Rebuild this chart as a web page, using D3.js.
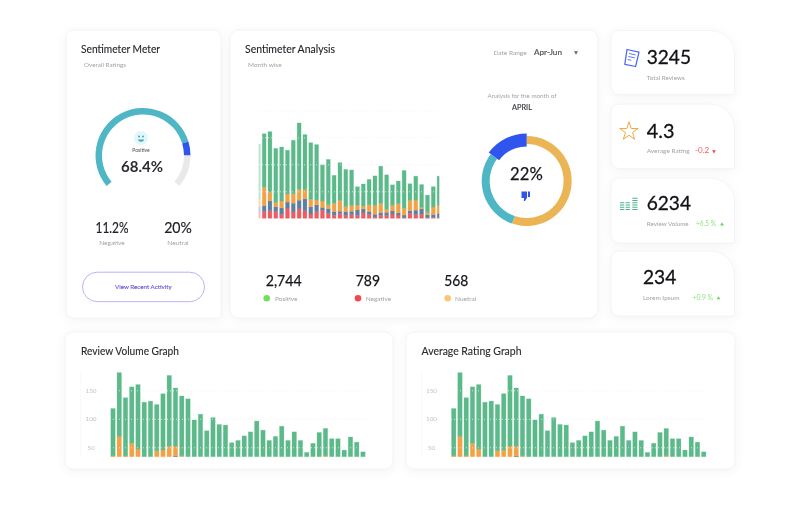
<!DOCTYPE html>
<html><head><meta charset="utf-8">
<script src="https://cdnjs.cloudflare.com/ajax/libs/d3/7.8.5/d3.min.js"></script>
<style>
html,body{margin:0;padding:0;background:#fff;}
svg{display:block;filter:blur(0.45px);}
text{font-family:Lato,"Noto Sans",sans-serif;}
</style></head><body>
<svg id="c" width="800" height="520"></svg>
<script>
// ---------- data ----------
const analysisRed   =[12.5,12.5,14,12.5,7.5,19,12,17.5,14,8,12.5,15,9,5.5,9,5.5,7,5.5,10,7.5,2,5.5,5.5,8,6,1,9,7,7.5,1,2,1];
const analysisBlue  =[9,11,18,9,12,11,16,16,22,13,12.5,5,9,7,4,7,6,10,7.5,5,5.5,5,5.5,5.5,4,5,5,8,10,5.5,5,8];
const analysisOrange=[14,34,16,7.5,12.5,15,17.5,20,17,14,9,12,7,15,20,9,10.5,9,5,12.5,16,17,5.5,10.5,17,12.5,19,19,2.5,4,14,15];
const analysisGreen =[102,99,112.5,100.5,100,81,99,123,102,105,102.5,67,84,52,70,69,66,34,41,47,55,69,64,38,42,70,31,44,42.5,32.5,37.5,54];
const volumeBlue  =[0,0,0,0,0,0,0,0,0,0,35,0,0,0,0,0,0,0,0,0,0,0,0,0,0,0,0,0,0,0,0,0,0,0,0,0,0,0,0,0,0];
const volumeOrange=[35,69,35,57,47,0,0,44,45,52,17,35,0,0,0,0,0,0,0,0,0,0,0,0,0,0,0,0,0,0,0,0,0,0,35,0,0,0,0,0,0];
const volumeGreen =[83,112,102,99,113,129,131,81,99,124,102,105,135,98,108,79,102,90,89,58,62,70,77,96,80,62,69,87,62,77,62,41,57,76,48,65,65,45,68,59,42];
const volumeTicks=[50,100,150];
const gaugeSlices=[203,17,40];
const donutSlices=[199,108,53];
const summaryNumbers=["2,744","789","568"];
const summaryLabels=["Positive","Negative","Nuetral"];

const C={green:"#5bb98a",orange:"#f2a244",slate:"#5f7fa0",red:"#ee5b60",teal:"#4fb6c6",blue:"#3054ee",gold:"#ebb555",grey:"#e9e9e9"};
const svg=d3.select("#c");
const cardPath=(x,y,w,h,rtl,rtr,rbr,rbl)=>{const p=d3.path();p.moveTo(x+rtl,y);p.lineTo(x+w-rtr,y);p.arcTo(x+w,y,x+w,y+rtr,rtr);p.lineTo(x+w,y+h-rbr);p.arcTo(x+w,y+h,x+w-rbr,y+h,rbr);p.lineTo(x+rbl,y+h);p.arcTo(x,y+h,x,y+h-rbl,rbl);p.lineTo(x,y+rtl);p.arcTo(x,y,x+rtl,y,rtl);p.closePath();return p.toString();};
const cards=svg.append("g").attr("fill","#fff").attr("stroke","#f4f4f6").attr("stroke-width",1).style("filter","drop-shadow(0 2px 5px rgba(40,40,70,.055))");
[[66,30,155,288,8,8,2,8],[230,30,368,288,9,9,9,9],[611,30.5,123.5,64,8,24,1,8],[611,104,123.5,64.5,8,24,1,8],[611,178,123.5,65,8,24,1,8],[611,251,123.5,65,8,24,1,8],[65,332,328,137,8,8,8,8],[406,332,329,137,8,8,8,8]]
 .forEach(c=>cards.append("path").attr("d",cardPath(...c)));
const T=(x,y,s,size,fill,o={})=>{const t=svg.append("text").attr("x",x).attr("y",y).text(s).attr("font-size",size).attr("fill",fill).attr("text-anchor",o.a||"start").attr("font-weight",o.w||400);
  if(o.len)t.attr("textLength",o.len).attr("lengthAdjust","spacingAndGlyphs");
  if(o.sw)t.attr("stroke",fill).attr("stroke-width",o.sw);
  return t;};
const dark="#1f1f26",mute="#a3a3a8";

function stacked(keys,colors,x,y,gridX,tickVals,labelX){
  const rows=keys[0].map((_,i)=>Object.fromEntries(keys.map((k,j)=>[j,k[i]])));
  const st=d3.stack().keys(keys.map((_,j)=>j))(rows);
  const g=svg.append("g");
  st.forEach((s,j)=>g.append("g").attr("fill",colors[j]).attr("stroke",colors[j]).attr("stroke-opacity",.28).attr("stroke-width",.9)
    .selectAll("rect").data(s.filter(d=>d[1]>d[0])).join("rect")
    .attr("x",d=>x(s.indexOf(d))).attr("width",x.bandwidth())
    .attr("y",d=>y(d[1])).attr("height",d=>Math.max(0,y(d[0])-y(d[1]))));
  const a=d3.axisLeft(y).tickValues(tickVals).tickSize(-(gridX[1]-gridX[0])).tickFormat(labelX==null?"":d3.format("d"));
  const ag=svg.append("g").attr("transform",`translate(${gridX[0]},0)`).call(a);
  ag.select(".domain").remove();
  ag.selectAll("line").attr("stroke","#f0f0f0").attr("stroke-dasharray","1 2").attr("stroke-width",.8);
  if(labelX!=null){ag.selectAll("text").attr("x",labelX-gridX[0]).attr("text-anchor","middle").attr("fill","#c4c4c6").attr("font-size",6.4).attr("font-family","Lato");}
  return g;
}
// ---------- Sentimeter Analysis chart ----------
const xA=d3.scaleBand().domain(d3.range(analysisGreen.length)).range([255.4,442]).paddingInner(.33).paddingOuter(.16);
const yA=d3.scaleLinear().domain([0,200]).range([218.3,110.3]);
svg.append("defs").html('<clipPath id="ca"><rect x="258.3" y="100" width="181" height="125"/></clipPath><linearGradient id="fd"><stop offset="0" stop-color="#fff" stop-opacity=".85"/><stop offset="1" stop-color="#fff" stop-opacity="0"/></linearGradient>');
const gA=stacked([analysisRed,analysisBlue,analysisOrange,analysisGreen],[C.red,C.slate,C.orange,C.green],xA,yA,[259,439],[50,100,150,200],null);
gA.attr("clip-path","url(#ca)");
svg.append("rect").attr("x",258).attr("y",105).attr("width",5).attr("height",115).attr("fill","url(#fd)");
// ---------- bottom charts ----------
[[450.6,706.85,[451,707],431.5,421.7],[109.875,366.1,[110,367],91,80.7]].forEach(([a,b,gx,lx,ax])=>{
  const x=d3.scaleBand().domain(d3.range(volumeGreen.length)).range([a,b]).paddingInner(.3).paddingOuter(.15);
  const y=d3.scaleLinear().domain([33.5,200]).range([456.7,361.8]).clamp(true);
  stacked([volumeBlue,volumeOrange,volumeGreen],[C.slate,C.orange,C.green],x,y,gx,volumeTicks,lx);
  svg.append("line").attr("x1",ax).attr("x2",ax).attr("y1",372).attr("y2",457).attr("stroke","#f6f6f6").attr("stroke-width",.8);
});
T(81,355,"Review Volume Graph",11,"#2a2a30",{len:98,sw:.12});
T(421.5,355,"Average Rating Graph",11,"#2a2a30",{len:100,sw:.12});

// ---------- Gauge ----------
const gauge=svg.append("g").attr("transform","translate(143,155.5)");
const deg=Math.PI/180;
const gp=d3.pie().sort(null).value(d=>d).startAngle(-130*deg).endAngle(130*deg);
gauge.selectAll("path").data(gp(gaugeSlices)).join("path")
  .attr("d",d3.arc().innerRadius(41).outerRadius(47.5)).attr("fill",(d,i)=>[C.teal,C.blue,C.grey][i]);
T(81,53,"Sentimeter Meter",11,dark,{len:79,sw:.12});
T(84,67,"Overall Ratings",6.5,mute,{len:42});
svg.append("circle").attr("cx",141).attr("cy",138).attr("r",7).attr("fill","#e3f6f9");
svg.append("circle").attr("cx",139).attr("cy",136.5).attr("r",1).attr("fill","#43a9b9");
svg.append("circle").attr("cx",143).attr("cy",136.5).attr("r",1).attr("fill","#43a9b9");
svg.append("path").attr("d","M137.8 139.5a3.3 3 0 0 0 6.4 0z").attr("fill","#43a9b9");
T(141,151.5,"Positive",5,"#4b4b55",{a:"middle"});
T(142,171.5,"68.4%",15,"#2b2b33",{a:"middle",w:700,len:42});
T(112,232.8,"11.2%",15.5,dark,{a:"middle",len:33,sw:.2});
T(112,244.5,"Negative",6.5,mute,{a:"middle"});
T(178,232.8,"20%",15.5,dark,{a:"middle",len:27.7,sw:.2});
T(178,244.5,"Neutral",6.5,mute,{a:"middle"});
svg.append("rect").attr("x",82.5).attr("y",272.2).attr("width",122).attr("height",29.5).attr("rx",14.7).attr("fill","none").attr("stroke","#b7a8f3").attr("stroke-width",.9);
T(143.3,289.3,"View Recent Activity",6.5,"#6a58d6",{a:"middle",len:56.7,sw:.12});

// ---------- Analysis header + donut ----------
T(245,53,"Sentimeter Analysis",11,dark,{len:90,sw:.12});
T(248,67,"Month wise",6.5,mute);
T(493.5,54.5,"Date Range",6.5,mute);
T(534,54.5,"Apr-Jun",7.8,"#55555c",{len:28,sw:.2});
svg.append("path").attr("d",d3.symbol(d3.symbolTriangle,7)()).attr("transform","translate(576,52.5) rotate(180)").attr("fill","#666");
T(522,98,"Analysis for the month of",6.5,mute,{a:"middle",len:69});
T(522,109.5,"APRIL",7.5,"#3b3b42",{a:"middle",len:20,sw:.15});
const donut=svg.append("g").attr("transform","translate(526.7,181)");
const dArcs=d3.pie().sort(null).value(d=>d)(donutSlices);
donut.selectAll("path").data(dArcs).join("path").attr("fill",(d,i)=>[C.gold,C.teal,C.blue][i])
  .attr("d",(d,i)=>d3.arc().innerRadius(i==2?34.5:37).outerRadius(i==2?47.5:45)(d));
T(526.4,180,"22%",17.5,"#17171d",{a:"middle",len:32.7,sw:.25});
svg.append("path").attr("d","M521.5 191.5h5.5v6.2l-2 3.4h-1.2l.3-3h-2.6zM528 191.5h2v5.5h-2z").attr("fill",C.blue);
summaryNumbers.forEach((s,i)=>{const xs=[265.7,355.7,444.3][i],dx=[266.7,358,447.7][i],lx=[275,365.7,455][i];
  T(xs,285.6,s,16,"#15151a",{len:[36,24.3,24][i],sw:.25});
  svg.append("circle").attr("cx",dx).attr("cy",298.3).attr("r",3.3).attr("fill",["#72e05c","#f14a4a","#f9c876"][i]);
  T(lx,300.7,summaryLabels[i],6.5,mute);
});

// ---------- Right KPI cards ----------
T(646.7,63.5,"3245",20,"#111116",{len:44.3,sw:.3});
T(646.7,79.5,"Total Reviews",6.5,mute,{len:38});
T(646.7,137.5,"4.3",20,"#111116",{len:27.7,sw:.3});
T(646.7,152.5,"Average Rating",6.5,mute,{len:43});
T(695,152.5,"-0.2",8.2,"#f0605f",{len:14.3});
svg.append("path").attr("d",d3.symbol(d3.symbolTriangle,6)()).attr("transform","translate(714,151.3) rotate(180)").attr("fill","#f0484a");
T(646.7,210,"6234",20,"#111116",{len:44.3,sw:.3});
T(646.7,225.8,"Review Volume",6.5,mute,{len:42});
T(696,225.8,"+6.5 %",8,"#8de37d",{len:20});
svg.append("path").attr("d",d3.symbol(d3.symbolTriangle,6)()).attr("transform","translate(722,224.5)").attr("fill","#63d653");
T(643,284,"234",20,"#111116",{len:33.3,sw:.3});
T(643,299.5,"Lorem Ipsum",6.5,mute,{len:36.5});
T(692.5,299.5,"+0.9 %",8,"#8de37d",{len:20.5});
svg.append("path").attr("d",d3.symbol(d3.symbolTriangle,6)()).attr("transform","translate(718.5,298.3)").attr("fill","#63d653");
// icons
svg.append("path").attr("d","M627 49.5l12 2.6-3.4 14.4-10.8-2.2z").attr("fill","none").attr("stroke","#4f66f5").attr("stroke-width",1.25).attr("stroke-linejoin","round");
svg.append("path").attr("d","M629 53.5l6.5 1.4M628.4 56.5l6.5 1.4M627.8 59.5l3.5 .8").attr("fill","none").attr("stroke","#4f66f5").attr("stroke-width",.9);
svg.append("path").attr("d",d3.symbol(d3.symbolStar,105)()).attr("transform","translate(629,131.5)").attr("fill","none").attr("stroke","#f2a93c").attr("stroke-width",1).attr("stroke-linejoin","round");
const iconCols=[[620,4.3,4],[625.6,4.3,4],[632.3,5.2,6]];
const bars=svg.append("g").attr("stroke","#4cb28a").attr("stroke-width",1);
iconCols.forEach(([x,w,n])=>{for(let i=0;i<n;i++)bars.append("line").attr("x1",x).attr("x2",x+w).attr("y1",209.5-i*2.25).attr("y2",209.5-i*2.25);});
</script></body></html>
